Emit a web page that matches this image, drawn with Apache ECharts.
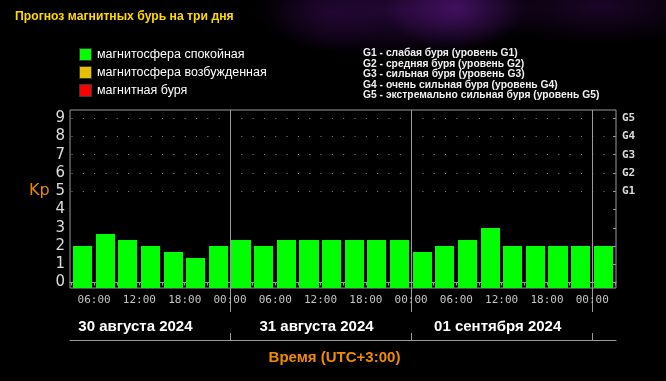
<!DOCTYPE html>
<html><head><meta charset="utf-8">
<script src="https://cdn.jsdelivr.net/npm/echarts@6/dist/echarts.min.js"></script>
<style>
html,body{margin:0;padding:0;background:#000;overflow:hidden;}
#bg{position:absolute;left:0;top:0;width:666px;height:381px;
background:
 radial-gradient(ellipse 70px 40px at 455px 8px, rgba(80,20,115,0.75), rgba(0,0,0,0) 100%),
 radial-gradient(ellipse 150px 48px at 400px 10px, rgba(50,10,75,0.7), rgba(0,0,0,0) 100%),
 radial-gradient(ellipse 120px 38px at 600px 6px, rgba(45,8,65,0.6), rgba(0,0,0,0) 100%),
 radial-gradient(ellipse 60px 40px at 330px 12px, rgba(45,8,65,0.5), rgba(0,0,0,0) 100%),
 #000;}
#chart{position:absolute;left:0;top:0;width:666px;height:381px;}
</style></head><body><div id="bg"></div><div id="chart"></div>
<script>
// ---- data ----
const slotStartHours = [3,6,9,12,15,18,21, 24,27,30,33,36,39,42,45, 48,51,54,57,60,63,66,69, 72];
const kpValues = [2.0,2.67,2.33,2.0,1.67,1.33,2.0, 2.33,2.0,2.33,2.33,2.33,2.33,2.33,2.33, 1.67,2.0,2.33,3.0,2.0,2.0,2.0,2.0, 2.0];
const slotEdgeHours = [3,6,9,12,15,18,21,24,27,30,33,36,39,42,45,48,51,54,57,60,63,66,69,72,75];
const timeTickHours = [6,12,18,24,30,36,42,48,54,60,66,72];
const timeTickLabels = ['06:00','12:00','18:00','00:00','06:00','12:00','18:00','00:00','06:00','12:00','18:00','00:00'];
const dayBoundaryHours = [24,48,72];
const dayCenterHours = [12,36,60];
const dayLabels = ['30 августа 2024','31 августа 2024','01 сентября 2024'];
const kpTicks = [0,1,2,3,4,5,6,7,8,9];
const stormLevels = [5,6,7,8,9];
const stormLabels = ['G1','G2','G3','G4','G5'];
const stateLegend = ['магнитосфера спокойная','магнитосфера возбужденная','магнитная буря'];
const stormLegend = ['G1 - слабая буря (уровень G1)','G2 - средняя буря (уровень G2)','G3 - сильная буря (уровень G3)','G4 - очень сильная буря (уровень G4)','G5 - экстремально сильная буря (уровень G5)'];
const titleText = 'Прогноз магнитных бурь на три дня';
const xAxisName = 'Время (UTC+3:00)';
const yAxisName = 'Kp';

// ---- layout / style ----
const W = 666, H = 381;
const GL = 70, GR = 50, GT = 110, GB = 93;
const X_MIN = 2.8, X_MAX = 75.15, Y_MIN = -0.3, Y_MAX = 9.45;
const stateColors = ['#00ff00','#e6c000','#ff0000'];
const lineGray = '#9a9a9a';
const pxPerHour = (W - GL - GR) / (X_MAX - X_MIN);
const dotPeriod = 1.5 * pxPerHour;
const firstDot = (3 - X_MIN) * pxPerHour;

function barColor(v){ return v >= 5 ? stateColors[2] : (v >= 4 ? stateColors[1] : stateColors[0]); }

const chart = echarts.init(document.getElementById('chart'), null, {renderer:'canvas'});

const baseX = {type:'value', min:X_MIN, max:X_MAX, gridIndex:0, position:'bottom', splitLine:{show:false}};

const graphics = [];
graphics.push({type:'text', left:15, top:10.5, style:{text:titleText, fill:'#ffd800', font:'bold 12.2px "Liberation Sans", Arial, sans-serif'}});
stateLegend.forEach((t,i)=>{
  const y = 48 + i*18;
  graphics.push({type:'rect', shape:{x:79.5, y:y+0.5, width:12, height:12}, style:{fill:stateColors[i], stroke:'#3a3a3a', lineWidth:1}});
  graphics.push({type:'text', x:97, y:y+6.5, style:{text:t, fill:'#ffffff', font:'12.5px "Liberation Sans", Arial, sans-serif', textVerticalAlign:'middle'}});
});
stormLegend.forEach((t,i)=>{
  graphics.push({type:'text', x:363, y:53.5 + i*10.4, style:{text:t, fill:'#f0f0f0', font:'bold 10.3px "Liberation Sans", Arial, sans-serif', textVerticalAlign:'middle'}});
});
graphics.push({type:'text', x:29, y:191, style:{text:yAxisName, fill:'#e68a00', font:'16px "DejaVu Sans", sans-serif', textVerticalAlign:'middle'}});
graphics.push({type:'text', x:334.5, y:357.5, style:{text:xAxisName, fill:'#f08a00', font:'bold 15px "Liberation Sans", Arial, sans-serif', textAlign:'center', textVerticalAlign:'middle'}});

const option = {
  animation:false,
  backgroundColor:'transparent',
  grid:{left:GL, right:GR, top:GT, bottom:GB, show:true, borderColor:lineGray, borderWidth:1, backgroundColor:'transparent'},
  xAxis:[
    Object.assign({}, baseX, {
      axisLine:{show:true, lineStyle:{color:lineGray, width:1}},
      axisTick:{show:true, customValues:slotEdgeHours, length:3, lineStyle:{color:lineGray}},
      axisLabel:{show:true, customValues:timeTickHours, margin:7, color:'#c4c4c4',
        fontFamily:'"DejaVu Sans Mono", monospace', fontSize:11,
        formatter:(v)=>timeTickLabels[timeTickHours.indexOf(v)]}
    }),
    Object.assign({}, baseX, {
      offset:26,
      axisLine:{show:true, lineStyle:{color:lineGray, width:1}},
      axisTick:{show:false}, axisLabel:{show:false}
    }),
    Object.assign({}, baseX, {
      offset:52,
      axisLine:{show:true, lineStyle:{color:lineGray, width:1}},
      axisTick:{show:true, inside:true, customValues:dayBoundaryHours, length:7, lineStyle:{color:lineGray}},
      axisLabel:{show:true, inside:true, customValues:dayCenterHours, margin:6, color:'#ffffff',
        fontFamily:'"Liberation Sans", Arial, sans-serif', fontWeight:'bold', fontSize:15,
        padding:[0,8,0,0],
        formatter:(v)=>dayLabels[dayCenterHours.indexOf(v)]}
    }),
    Object.assign({}, baseX, {
      axisLine:{show:false},
      axisTick:{show:true, customValues:dayBoundaryHours, length:24, lineStyle:{color:lineGray}},
      axisLabel:{show:false}
    })
  ],
  yAxis:[
    {type:'value', min:Y_MIN, max:Y_MAX, position:'left', splitLine:{show:false},
     axisLine:{show:false},
     axisTick:{show:false},
     axisLabel:{show:true, customValues:kpTicks, margin:5, color:'#dcdcdc', fontFamily:'"DejaVu Sans", sans-serif', fontSize:15}},
    {type:'value', min:Y_MIN, max:Y_MAX, position:'right', splitLine:{show:false},
     axisLine:{show:false},
     axisTick:{show:true, inside:true, customValues:kpTicks, length:3, lineStyle:{color:lineGray}},
     axisLabel:{show:true, customValues:stormLevels, margin:6, color:'#dcdcdc', fontFamily:'"DejaVu Sans Mono", monospace', fontWeight:'bold', fontSize:11,
       formatter:(v)=>stormLabels[stormLevels.indexOf(v)]}}
  ],
  graphic:graphics,
  series:[{
    type:'custom',
    xAxisIndex:0, yAxisIndex:0,
    data: slotStartHours.map((h,i)=>[h, kpValues[i]]),
    encode:{x:0, y:1},
    renderItem:(params, api)=>{
      const x0 = api.value(0), v = api.value(1);
      const p0 = api.coord([x0, Y_MIN]);
      const p1 = api.coord([x0 + 3, v]);
      const left = Math.round(p0[0] + 1.5), right = Math.round(p1[0] - 2);
      const top = Math.round(p1[1]);
      return {type:'rect', shape:{x:left, y:top, width:right-left, height:Math.round(p0[1])-top},
        style:{fill:barColor(v)}};
    },
    markLine:{
      silent:true, symbol:['none','none'], label:{show:false}, animation:false,
      data:[
        ...stormLevels.map(l=>({yAxis:l, lineStyle:{color:'#8a8a8a', width:1, type:[1, dotPeriod-1], dashOffset: dotPeriod - firstDot}})),
        ...dayBoundaryHours.map(h=>({xAxis:h, lineStyle:{color:lineGray, width:1, type:'solid'}}))
      ]
    }
  }]
};
chart.setOption(option);
</script></body></html>
